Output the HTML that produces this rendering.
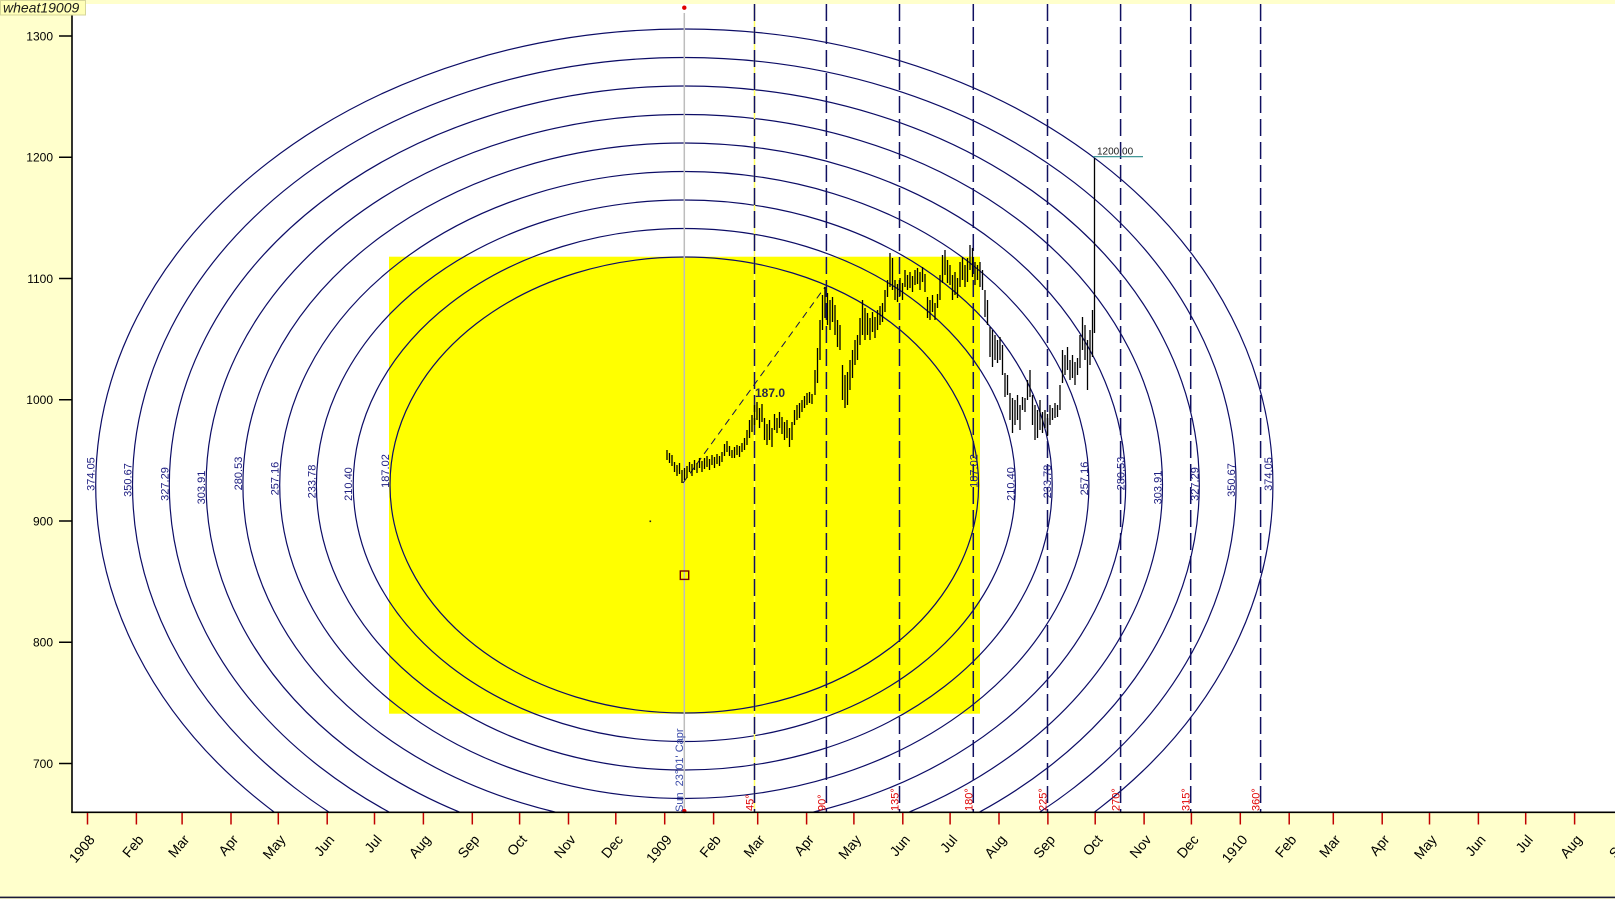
<!DOCTYPE html>
<html><head><meta charset="utf-8"><style>
html,body{margin:0;padding:0;background:#ffffcc;}
svg{display:block;}
text{font-family:"Liberation Sans",Arial,sans-serif;}
</style></head><body>
<svg width="1615" height="899" viewBox="0 0 1615 899" xmlns="http://www.w3.org/2000/svg">
<defs><clipPath id="pc"><rect x="72" y="4" width="1543" height="808"/></clipPath></defs>
<rect x="0" y="0" width="1615" height="899" fill="#ffffcc"/>
<rect x="72" y="4" width="1543" height="808" fill="#ffffff"/>
<rect x="389" y="256.7" width="591" height="457" fill="#ffff00"/>
<g clip-path="url(#pc)">
<g fill="none" stroke="#0c0c66" stroke-width="1.2">
<ellipse cx="684.3" cy="485" rx="294.3" ry="228"/>
<ellipse cx="684.3" cy="485" rx="331.1" ry="256.5"/>
<ellipse cx="684.3" cy="485" rx="367.9" ry="285"/>
<ellipse cx="684.3" cy="485" rx="404.6" ry="313.5"/>
<ellipse cx="684.3" cy="485" rx="441.4" ry="342"/>
<ellipse cx="684.3" cy="485" rx="478.2" ry="370.5"/>
<ellipse cx="684.3" cy="485" rx="515" ry="399"/>
<ellipse cx="684.3" cy="485" rx="551.8" ry="427.5"/>
<ellipse cx="684.3" cy="485" rx="588.6" ry="456"/>
</g>
</g>
<line x1="684.3" y1="13" x2="684.3" y2="808" stroke="#bdbdbd" stroke-width="1.5"/>
<circle cx="684.3" cy="7.7" r="2.2" fill="#e00000"/>
<circle cx="684.3" cy="811" r="2.2" fill="#e00000"/>
<line x1="754.5" y1="4" x2="754.5" y2="812" stroke="#ffff60" stroke-width="1.5"/>
<g stroke="#101060" stroke-width="1.5" stroke-dasharray="17 6">
<line x1="754.5" y1="4" x2="754.5" y2="812"/>
<line x1="826.4" y1="4" x2="826.4" y2="812"/>
<line x1="899.5" y1="4" x2="899.5" y2="812"/>
<line x1="973.3" y1="4" x2="973.3" y2="812"/>
<line x1="1047.5" y1="4" x2="1047.5" y2="812"/>
<line x1="1120.6" y1="4" x2="1120.6" y2="812"/>
<line x1="1190.7" y1="4" x2="1190.7" y2="812"/>
<line x1="1260.6" y1="4" x2="1260.6" y2="812"/>
</g>
<line x1="683" y1="483" x2="825" y2="287" stroke="#101050" stroke-width="1" stroke-dasharray="7 5"/>
<rect x="649.5" y="520.5" width="1.6" height="1.6" fill="#202020"/>
<rect x="680.3" y="571" width="8.4" height="8.4" fill="none" stroke="#7a0000" stroke-width="1.4"/>
<path fill="none" stroke="#000" stroke-width="1.3" d="M667 450V460M669.5 453V463M672 455V466M674.5 462V472M677 465V476M679.5 463V474M682 470V483M684.5 468V480M687 466V478M689.5 462V472M692 464V476M694.5 460V470M697 463V473M699.5 458V468M702 461V472M704.5 458V469M707 456V467M709.5 459V470M712 455V465M714.5 457V468M717 454V464M719.5 456V466M722 452V462M724.5 444V456M727 441V452M729.5 446V456M732 450V458M734.5 447V458M737 445V455M739.5 446V457M742 443V452M744.5 438V450M747 430V445M749.5 420V438M752 415V432M754.5 405V425M757 402V420M759.5 408V428M762 404V422M764.5 418V440M767 424V445M769.5 420V440M772 428V447M774.5 414V430M777 418V433M779.5 412V428M782 417V434M784.5 422V440M787 420V438M789.5 428V447M792 422V440M794.5 410V425M797 405V420M799.5 403V418M802 400V412M804.5 396V408M807 393V405M809.5 392V403M812 394V404M815 370V395M817.5 348V383M820 320V360M822.5 295V330M825 287V318M827.5 293V325M830 300V330M832.5 297V322M835 305V335M837.5 320V347M840 325V350M842.5 365V400M845 375V408M847.5 372V405M850 360V390M852.5 350V378M855 340V365M857.5 335V360M860 318V345M862.5 300V335M865 308V340M867.5 313V335M870 318V340M872.5 312V332M875 317V338M877.5 310V330M880 306V325M882.5 303V322M885 290V312M887.5 280V297M890 253V287M892.5 258V290M895 280V300M897.5 284V302M900 278V296M902.5 283V300M905 270V287M907.5 275V290M910 272V288M912.5 276V292M915 270V285M917.5 268V284M920 272V290M922.5 267V282M925 274V292M927.5 297V318M930 300V320M932.5 295V312M935 303V320M937.5 294V308M940 275V300M942.5 255V283M945 250V275M947.5 260V283M950 265V285M952.5 275V300M955 272V295M957.5 278V298M960 262V287M962.5 257V280M965 265V287M967.5 258V282M970 245V270M972.5 248V277M975 262V285M977.5 265V280M980 262V287M982.5 270V290M985 290V317M987.5 300V325M990 327V357M992.5 330V367M995 335V360M997.5 340V363M1000 337V360M1002.5 345V375M1005 373V397M1007.5 375V395M1010 393V420M1012.5 398V433M1015 400V425M1017.5 395V420M1020 405V430M1022.5 397V410M1025 398V412M1027.5 380V400M1030 370V397M1032.5 395V425M1035 405V440M1037.5 410V438M1040 400V430M1042.5 412V433M1045 410V428M1047.5 414V436M1050 405V425M1052.5 408V420M1055 403V418M1057.5 405V417M1060 385V410M1062.5 350V383M1065 355V375M1067.5 347V370M1070 360V380M1072.5 355V378M1075 362V385M1077.5 358V375M1080 335V368M1082.5 317V350M1085 325V360M1087.5 340V390M1090 330V365M1092.5 310V357M1094.5 158V333"/>
<line x1="1093" y1="156.7" x2="1143" y2="156.7" stroke="#2a8a8a" stroke-width="1.2"/>
<text x="1097" y="154.5" font-size="10" fill="#202020">1200.00</text>
<text x="755" y="397" font-size="12" font-weight="bold" fill="#2a2a48">187.0</text>
<g font-size="11" fill="#1c1c80" text-anchor="middle">
<text x="389" y="471" transform="rotate(-90 389 471)">187.02</text>
<text x="352.2" y="484" transform="rotate(-90 352.2 484)">210.40</text>
<text x="315.4" y="481.5" transform="rotate(-90 315.4 481.5)">233.78</text>
<text x="278.7" y="478.5" transform="rotate(-90 278.7 478.5)">257.16</text>
<text x="241.9" y="473.5" transform="rotate(-90 241.9 473.5)">280.53</text>
<text x="205.1" y="487.5" transform="rotate(-90 205.1 487.5)">303.91</text>
<text x="168.3" y="484" transform="rotate(-90 168.3 484)">327.29</text>
<text x="131.5" y="480" transform="rotate(-90 131.5 480)">350.67</text>
<text x="94.7" y="474" transform="rotate(-90 94.7 474)">374.05</text>
<text x="977.6" y="471" transform="rotate(-90 977.6 471)">187.02</text>
<text x="1014.4" y="484" transform="rotate(-90 1014.4 484)">210.40</text>
<text x="1051.2" y="481.5" transform="rotate(-90 1051.2 481.5)">233.78</text>
<text x="1087.9" y="478.5" transform="rotate(-90 1087.9 478.5)">257.16</text>
<text x="1124.7" y="473.5" transform="rotate(-90 1124.7 473.5)">280.53</text>
<text x="1161.5" y="487.5" transform="rotate(-90 1161.5 487.5)">303.91</text>
<text x="1198.3" y="484" transform="rotate(-90 1198.3 484)">327.29</text>
<text x="1235.1" y="480" transform="rotate(-90 1235.1 480)">350.67</text>
<text x="1271.9" y="474" transform="rotate(-90 1271.9 474)">374.05</text>
</g>
<g font-size="11" fill="#e00000">
<text x="753.5" y="811" transform="rotate(-90 753.5 811)">45°</text>
<text x="825.4" y="811" transform="rotate(-90 825.4 811)">90°</text>
<text x="898.5" y="811" transform="rotate(-90 898.5 811)">135°</text>
<text x="972.3" y="811" transform="rotate(-90 972.3 811)">180°</text>
<text x="1046.5" y="811" transform="rotate(-90 1046.5 811)">225°</text>
<text x="1119.6" y="811" transform="rotate(-90 1119.6 811)">270°</text>
<text x="1189.7" y="811" transform="rotate(-90 1189.7 811)">315°</text>
<text x="1259.6" y="811" transform="rotate(-90 1259.6 811)">360°</text>
</g>
<text x="683" y="812" font-size="11" fill="#3a4aa8" transform="rotate(-90 683 812)" xml:space="preserve">Sun  23°01' Capr</text>
<line x1="72" y1="4" x2="72" y2="812.5" stroke="#000" stroke-width="1.6"/>
<line x1="71.2" y1="812.3" x2="1615" y2="812.3" stroke="#000" stroke-width="1.6"/>
<g stroke="#000" stroke-width="1.5">
<line x1="59" y1="36" x2="72" y2="36"/>
<line x1="59" y1="157.25" x2="72" y2="157.25"/>
<line x1="59" y1="278.5" x2="72" y2="278.5"/>
<line x1="59" y1="399.75" x2="72" y2="399.75"/>
<line x1="59" y1="521" x2="72" y2="521"/>
<line x1="59" y1="642.25" x2="72" y2="642.25"/>
<line x1="59" y1="763.5" x2="72" y2="763.5"/>
</g>
<g font-size="12" fill="#000" text-anchor="end">
<text x="53" y="40.3">1300</text>
<text x="53" y="161.5">1200</text>
<text x="53" y="282.8">1100</text>
<text x="53" y="404">1000</text>
<text x="53" y="525.3">900</text>
<text x="53" y="646.5">800</text>
<text x="53" y="767.8">700</text>
</g>
<path stroke="#c00000" stroke-width="1.5" fill="none" d="M87.5 813V824.5M136.4 813V824.5M182.1 813V824.5M231 813V824.5M278.3 813V824.5M327.2 813V824.5M374.5 813V824.5M423.4 813V824.5M472.3 813V824.5M519.6 813V824.5M568.5 813V824.5M615.8 813V824.5M664.7 813V824.5M713.6 813V824.5M757.7 813V824.5M806.6 813V824.5M853.9 813V824.5M902.8 813V824.5M950.1 813V824.5M999 813V824.5M1047.9 813V824.5M1095.2 813V824.5M1144.1 813V824.5M1191.4 813V824.5M1240.3 813V824.5M1289.2 813V824.5M1333.3 813V824.5M1382.2 813V824.5M1429.5 813V824.5M1478.4 813V824.5M1525.7 813V824.5M1574.6 813V824.5"/>
<g font-size="14" fill="#000" text-anchor="end">
<text x="95.5" y="840" transform="rotate(-50 95.5 840)">1908</text>
<text x="144.4" y="840" transform="rotate(-50 144.4 840)">Feb</text>
<text x="190.1" y="840" transform="rotate(-50 190.1 840)">Mar</text>
<text x="239" y="840" transform="rotate(-50 239 840)">Apr</text>
<text x="286.3" y="840" transform="rotate(-50 286.3 840)">May</text>
<text x="335.2" y="840" transform="rotate(-50 335.2 840)">Jun</text>
<text x="382.5" y="840" transform="rotate(-50 382.5 840)">Jul</text>
<text x="431.4" y="840" transform="rotate(-50 431.4 840)">Aug</text>
<text x="480.3" y="840" transform="rotate(-50 480.3 840)">Sep</text>
<text x="527.6" y="840" transform="rotate(-50 527.6 840)">Oct</text>
<text x="576.5" y="840" transform="rotate(-50 576.5 840)">Nov</text>
<text x="623.8" y="840" transform="rotate(-50 623.8 840)">Dec</text>
<text x="672.7" y="840" transform="rotate(-50 672.7 840)">1909</text>
<text x="721.6" y="840" transform="rotate(-50 721.6 840)">Feb</text>
<text x="765.7" y="840" transform="rotate(-50 765.7 840)">Mar</text>
<text x="814.6" y="840" transform="rotate(-50 814.6 840)">Apr</text>
<text x="861.9" y="840" transform="rotate(-50 861.9 840)">May</text>
<text x="910.8" y="840" transform="rotate(-50 910.8 840)">Jun</text>
<text x="958.1" y="840" transform="rotate(-50 958.1 840)">Jul</text>
<text x="1007" y="840" transform="rotate(-50 1007 840)">Aug</text>
<text x="1055.9" y="840" transform="rotate(-50 1055.9 840)">Sep</text>
<text x="1103.2" y="840" transform="rotate(-50 1103.2 840)">Oct</text>
<text x="1152.1" y="840" transform="rotate(-50 1152.1 840)">Nov</text>
<text x="1199.4" y="840" transform="rotate(-50 1199.4 840)">Dec</text>
<text x="1248.3" y="840" transform="rotate(-50 1248.3 840)">1910</text>
<text x="1297.2" y="840" transform="rotate(-50 1297.2 840)">Feb</text>
<text x="1341.3" y="840" transform="rotate(-50 1341.3 840)">Mar</text>
<text x="1390.2" y="840" transform="rotate(-50 1390.2 840)">Apr</text>
<text x="1437.5" y="840" transform="rotate(-50 1437.5 840)">May</text>
<text x="1486.4" y="840" transform="rotate(-50 1486.4 840)">Jun</text>
<text x="1533.7" y="840" transform="rotate(-50 1533.7 840)">Jul</text>
<text x="1582.6" y="840" transform="rotate(-50 1582.6 840)">Aug</text>
<text x="1631.5" y="840" transform="rotate(-50 1631.5 840)">Sep</text>
</g>
<rect x="0" y="896.6" width="1615" height="1.6" fill="#1a1a3a"/>
<rect x="0.5" y="0.5" width="85" height="14.5" fill="#ffffb8" stroke="#d6d69a" stroke-width="1"/>
<text x="3" y="12.5" font-size="14" font-style="italic" fill="#1a1a1a">wheat19009</text>
</svg>
</body></html>
